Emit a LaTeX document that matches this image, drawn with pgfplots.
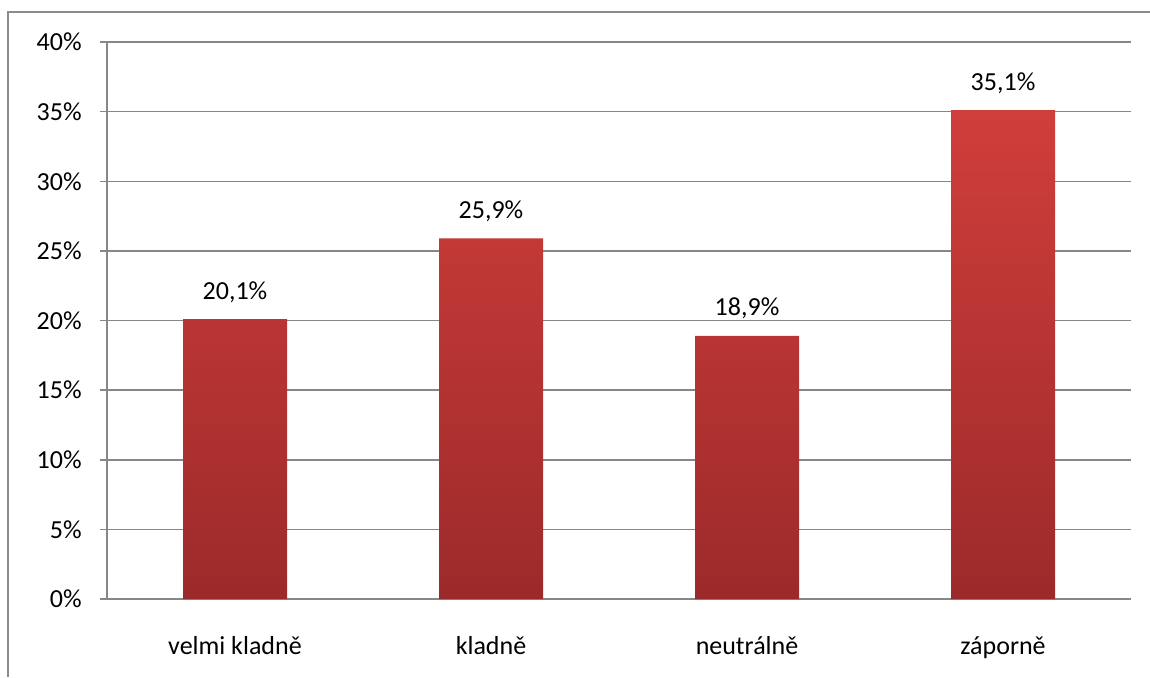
\documentclass[border=0pt]{standalone}
\usepackage{pgfplots}
\pgfplotsset{compat=1.18}
\usepackage{fontspec}
\setmainfont{Carlito}
\definecolor{gridgray}{HTML}{878787}
\definecolor{framegray}{HTML}{8C8C8C}
\definecolor{bartop}{HTML}{D03E3B}
\definecolor{barbottom}{HTML}{9C2A2A}
\begin{document}
\begin{tikzpicture}[x=0.5pt,y=0.5pt]
\useasboundingbox (0,0) rectangle (1150,677);
% outer chart frame
\draw[framegray, line width=1pt] (8,0) -- (8,665) -- (1150,665);
\begin{axis}[
  at={(53.5pt,39pt)}, anchor=south west,
  scale only axis, width=512pt, height=278.5pt,
  font=\fontsize{13pt}{15pt}\selectfont,
  /pgf/number format/assume math mode=true,
  xmin=-0.5, xmax=3.5, ymin=0, ymax=40,
  axis x line=bottom, axis y line=left,
  axis line style={-, gridgray, line width=0.75pt},
  xtick={0,1,2,3},
  xticklabels={velmi kladně, kladně, neutrálně, záporně},
  major x tick style={draw=none},
  extra x ticks={-0.5,0.5,1.5,2.5,3.5},
  extra x tick labels={},
  extra x tick style={tick align=outside, major tick length=4.5pt, tick style={gridgray, line width=0.75pt}, grid=none},
  xticklabel style={anchor=base, yshift=-24pt, inner sep=0pt},
  ytick={0,5,...,40},
  yticklabel={\pgfmathprintnumber{\tick}\%},
  yticklabel style={anchor=east, inner sep=0pt, xshift=-9pt},
  ytick style={gridgray, line width=0.75pt},
  tick align=outside, major tick length=3.5pt,
  ymajorgrids, grid style={gridgray, line width=0.75pt},
  bar width=52pt,
  nodes near coords={\pgfmathprintnumber[fixed,zerofill,precision=1,use comma]{\pgfplotspointmeta}\%},
  every node near coord/.append style={anchor=base, inner sep=0pt, yshift=10pt, font=\fontsize{13pt}{15pt}\selectfont, text=black},
]
\addplot[ybar, draw=none, top color=bartop, bottom color=barbottom]
  coordinates {(0,20.1) (1,25.9) (2,18.9) (3,35.1)};
\end{axis}
\end{tikzpicture}
\end{document}
